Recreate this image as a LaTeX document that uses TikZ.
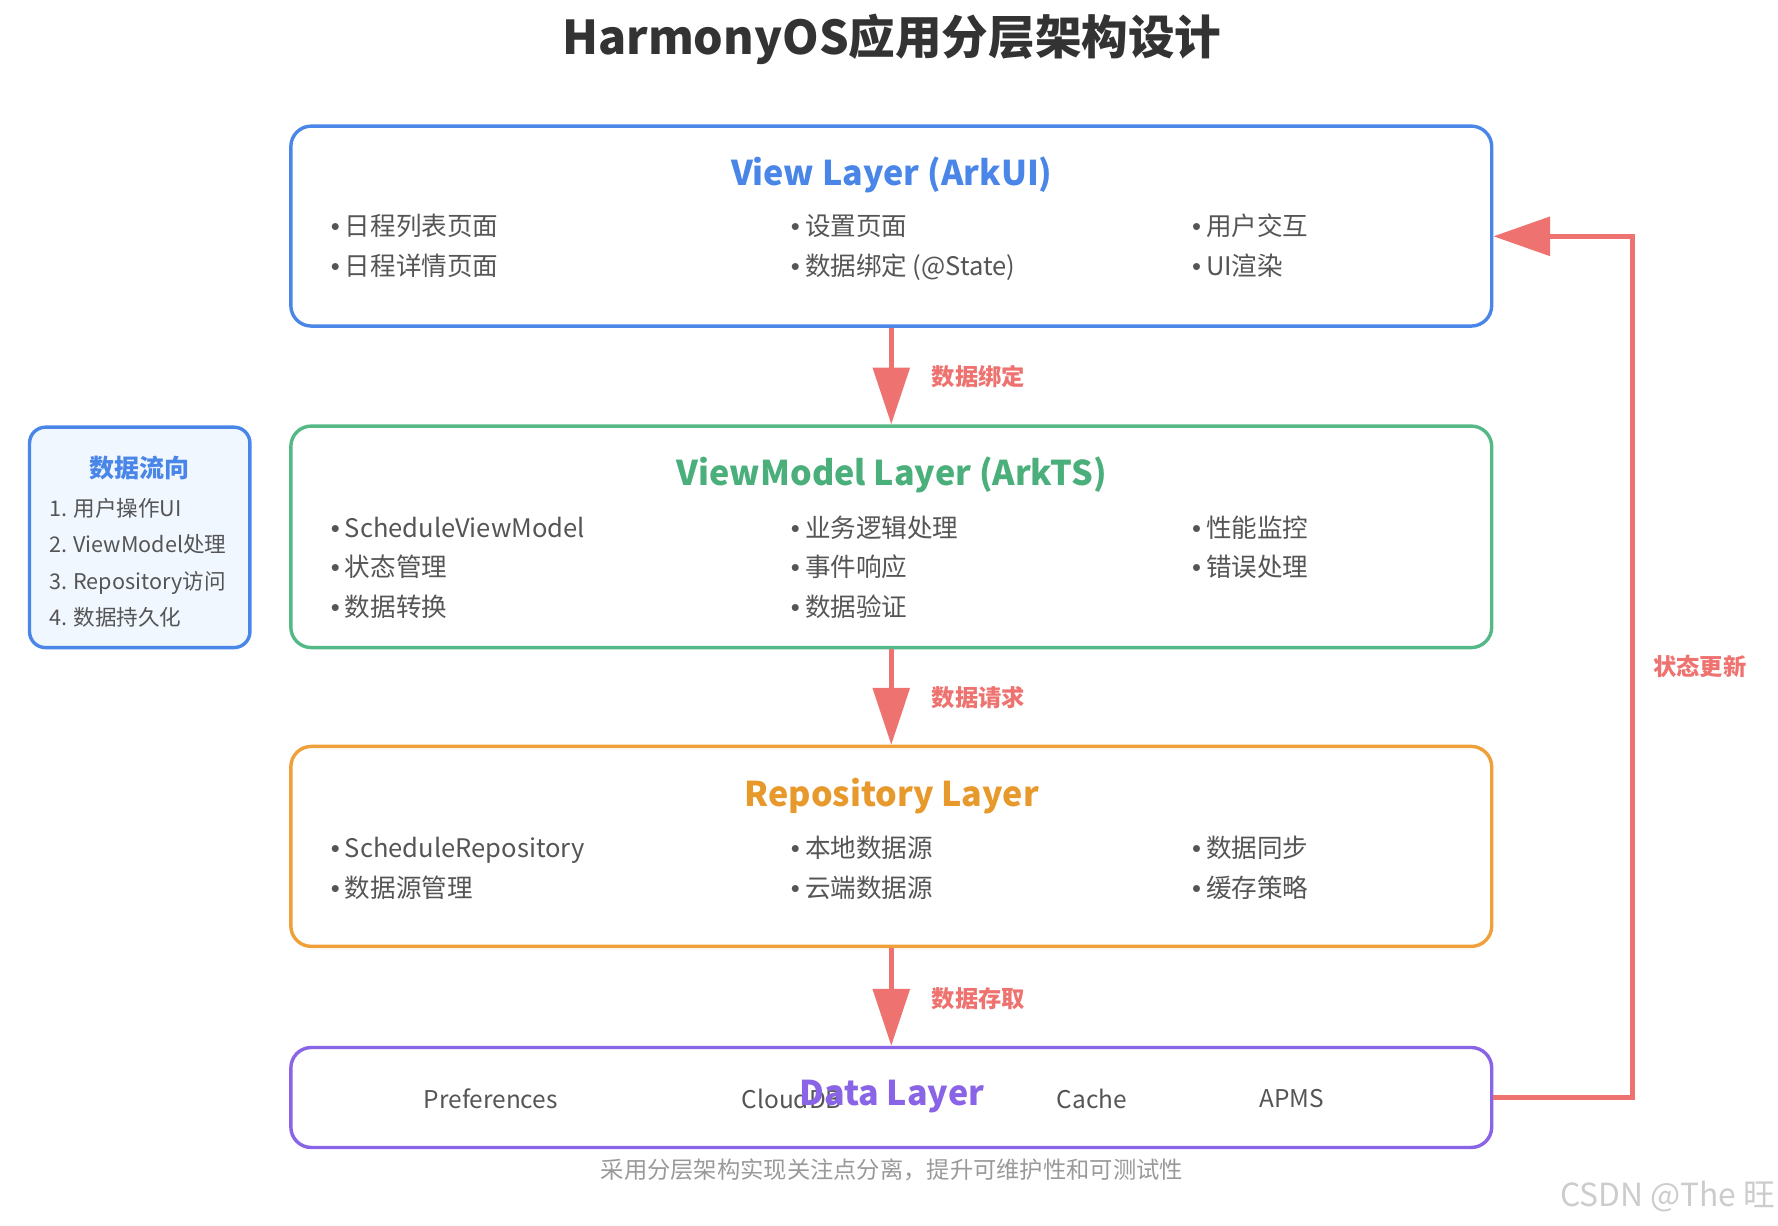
\documentclass[tikz,border=0pt]{standalone}
\usepackage{fontspec}
\setmainfont{Noto Sans CJK SC}
\newfontfamily\bulfont{Liberation Sans}
\usetikzlibrary{arrows.meta,calc}
\definecolor{cblue}{HTML}{4A86E8}
\definecolor{cgreen}{HTML}{55B887}
\definecolor{cgreent}{HTML}{4AAF7A}
\definecolor{corange}{HTML}{EFA03A}
\definecolor{corenget}{HTML}{E8992C}
\definecolor{cpurple}{HTML}{8A64E6}
\definecolor{cred}{HTML}{EE7370}
\definecolor{ctext}{HTML}{555555}
\definecolor{ctitle}{HTML}{333333}
\definecolor{cfoot}{HTML}{999999}
\definecolor{csidefill}{HTML}{F0F7FF}
\definecolor{cwm}{HTML}{CCCCCC}
\newcommand\bul{{\bulfont •}\hspace{4.5pt}}
\begin{document}
\begin{tikzpicture}[x=1pt,y=-1pt,
  layer/.style={draw, line width=3pt, rounded corners=18pt, fill=white, minimum width=1057pt, inner sep=0pt},
  ltitle/.style={font=\fontsize{30}{36}\selectfont\bfseries, anchor=center},
  item/.style={font=\fontsize{22.5}{27}\selectfont, text=ctext, anchor=mid west, inner sep=0pt, yshift=-5pt},
  ditem/.style={font=\fontsize{21.5}{26}\selectfont, text=ctext, anchor=center, inner sep=0pt},
  downarrow/.style={draw=cred, line width=4pt, -{Triangle[length=50pt,width=32pt]}},
  alabel/.style={font=\fontsize{20.5}{25}\selectfont\bfseries, text=cred, anchor=mid west, inner sep=0pt, yshift=-4pt},
  side/.style={font=\fontsize{19}{23}\selectfont, text=ctext, anchor=mid west, inner sep=0pt, yshift=-4pt}
]
\useasboundingbox (0,0) rectangle (1565,1079);

% title
\node[font=\fontsize{41}{48}\selectfont\bfseries, text=ctitle] (title) at (785,35) {HarmonyOS应用分层架构设计};

% layer boxes
\node[layer, draw=cblue, minimum height=176pt] (vl) at (784.5,199) {};
\node[layer, draw=cgreen, minimum height=195pt] (vm) at (784.5,472.5) {};
\node[layer, draw=corange, minimum height=176pt] (rl) at (784.5,745) {};
\node[layer, draw=cpurple, minimum height=88pt] (dl) at (784.5,966) {};

% view layer
\node[ltitle, text=cblue] (vlt) at (785,154) {View Layer (ArkUI)};
\node[item] (v1) at (291,200) {\bul 日程列表页面};
\node[item] (v2) at (291,235) {\bul 日程详情页面};
\node[item] (v3) at (696,200) {\bul 设置页面};
\node[item] (v4) at (696,235) {\bul 数据绑定 (@State)};
\node[item] (v5) at (1049,200) {\bul 用户交互};
\node[item] (v6) at (1049,235) {\bul UI渲染};

% viewmodel layer
\node[ltitle, text=cgreent] (vmt) at (785,418) {ViewModel Layer (ArkTS)};
\node[item] (m1) at (291,465) {\bul ScheduleViewModel};
\node[item] (m2) at (291,500) {\bul 状态管理};
\node[item] (m3) at (291,535) {\bul 数据转换};
\node[item] (m4) at (696,465) {\bul 业务逻辑处理};
\node[item] (m5) at (696,500) {\bul 事件响应};
\node[item] (m6) at (696,535) {\bul 数据验证};
\node[item] (m7) at (1049,465) {\bul 性能监控};
\node[item] (m8) at (1049,500) {\bul 错误处理};

% repository layer
\node[ltitle, text=corenget] (rlt) at (785,701) {Repository Layer};
\node[item] (r1) at (291,747) {\bul ScheduleRepository};
\node[item] (r2) at (291,782) {\bul 数据源管理};
\node[item] (r3) at (696,747) {\bul 本地数据源};
\node[item] (r4) at (696,782) {\bul 云端数据源};
\node[item] (r5) at (1049,747) {\bul 数据同步};
\node[item] (r6) at (1049,782) {\bul 缓存策略};

% data layer
\node[ditem] (d1) at (432,967) {Preferences};
\node[ditem] (d2) at (697,967) {CloudDB};
\node[ditem] (d3) at (961,967) {Cache};
\node[ditem] (d4) at (1137,967) {APMS};
\node[ltitle, text=cpurple] (dlt) at (785,965) {Data Layer};

% footer
\node[font=\fontsize{20.5}{25}\selectfont, text=cfoot] (foot) at (785,1030) {采用分层架构实现关注点分离，提升可维护性和可测试性};

% arrows between layers
\draw[downarrow] (vl.south) -- (vm.north);
\draw[downarrow] (vm.south) -- (rl.north);
\draw[downarrow] (rl.south) -- (dl.north);
\node[alabel] (a1) at (820,333) {数据绑定};
\node[alabel] (a2) at (820,615) {数据请求};
\node[alabel] (a3) at (820,880) {数据存取};

% feedback arrow
\coordinate (fbtip) at ($(vl.east)+(0,9)$);
\draw[draw=cred, line width=4pt, -{Triangle[length=50pt,width=34pt]}] (dl.east) -- (1437,966) -- (1437,208) -- (fbtip);
\node[alabel, anchor=mid west] (a4) at (1455,588) {状态更新};

% side box
\node[draw=cblue, fill=csidefill, line width=3pt, rounded corners=14pt, minimum width=194pt, minimum height=194pt, inner sep=0pt] (sb) at (123,473) {};
\node[font=\fontsize{22}{26}\selectfont\bfseries, text=cblue] (sbt) at (123,412) {数据流向};
\node[side] (s1) at (43,448) {1. 用户操作UI};
\node[side] (s2) at (43,480) {2. ViewModel处理};
\node[side] (s3) at (43,512) {3. Repository访问};
\node[side] (s4) at (43,544) {4. 数据持久化};

% watermark
\node[font=\fontsize{28}{32}\selectfont, text=cwm, anchor=mid east, inner sep=0pt, yshift=-4pt] (wm) at (1563,1055) {CSDN @The 旺};
\end{tikzpicture}
\end{document}
